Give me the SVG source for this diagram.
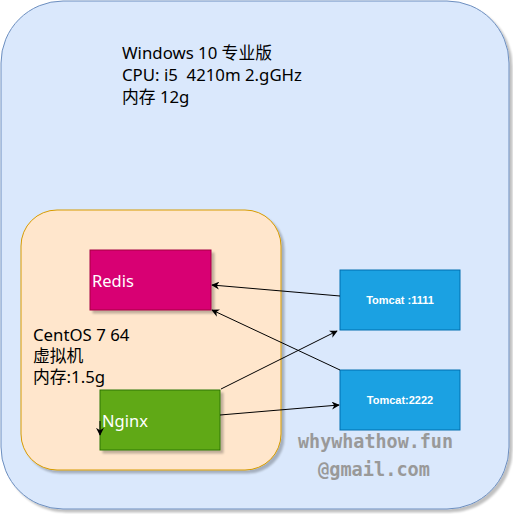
<svg xmlns="http://www.w3.org/2000/svg" width="513" height="514" viewBox="0 0 513 514">
<defs>
<marker id="ah" viewBox="0 0 10 10" refX="9" refY="5" markerWidth="8" markerHeight="8" orient="auto" markerUnits="userSpaceOnUse">
<path d="M0,0 L10,5 L0,10 L3,5 Z" fill="#000"/>
</marker>
<filter id="sh" x="-10%" y="-10%" width="120%" height="120%">
<feOffset dx="3" dy="3" in="SourceAlpha" result="o"/>
<feGaussianBlur in="o" stdDeviation="1" result="b"/>
<feComponentTransfer in="b" result="c"><feFuncA type="linear" slope="0.25"/></feComponentTransfer>
<feMerge><feMergeNode in="c"/><feMergeNode in="SourceGraphic"/></feMerge>
</filter>
</defs>
<style>
.t{font-family:"Noto Sans","Noto Sans CJK SC",sans-serif;font-size:16.8px;fill:#000;white-space:pre}
.w{font-family:"Noto Sans",sans-serif;font-size:16.5px;fill:#fff}
.tc{font-family:"Liberation Sans",Arial,sans-serif;font-size:11px;font-weight:bold;fill:#fff;text-anchor:middle}
.c{stroke:#000;stroke-width:1;fill:none;marker-end:url(#ah)}
.wm{font-family:"DejaVu Sans Mono",monospace;font-size:20px;font-weight:bold;fill:#999}
</style>
<g id="windows">
<rect x="1" y="1" width="508" height="508" rx="62" ry="62" fill="#dae8fc" stroke="#6c8ebf" filter="url(#sh)"/>
<text class="t" x="122" y="59">Windows 10 专业版</text>
<text class="t" x="122" y="81" xml:space="preserve">CPU: i5  4210m 2.gGHz</text>
<text class="t" x="122" y="103">内存 12g</text>
</g>
<g id="centos">
<rect x="21" y="210" width="260" height="260" rx="36" ry="36" fill="#ffe6cc" stroke="#d79b00" filter="url(#sh)"/>
<text class="t" x="33" y="341">CentOS 7 64</text>
<text class="t" x="33" y="362">虚拟机</text>
<text class="t" x="33" y="383">内存:1.5g</text>
</g>
<g id="redis">
<rect x="90" y="250" width="121" height="60" fill="#d80073" stroke="#a50040" filter="url(#sh)"/>
<text class="w" x="92" y="287">Redis</text>
</g>
<g id="nginx">
<rect x="100" y="390" width="120" height="60" fill="#60a917" stroke="#2d7600" filter="url(#sh)"/>
<text class="w" x="102" y="427">Nginx</text>
</g>
<g id="tomcat1111">
<rect x="340" y="270" width="120" height="60" fill="#1ba1e2" stroke="#006eaf"/>
<text class="tc" x="400" y="304">Tomcat :1111</text>
</g>
<g id="tomcat2222">
<rect x="340" y="370" width="120" height="60" fill="#1ba1e2" stroke="#006eaf"/>
<text class="tc" x="400" y="404">Tomcat:2222</text>
</g>
<g id="connectors">
<line class="c" x1="340" y1="296" x2="212" y2="285"/>
<line class="c" x1="340" y1="370" x2="212" y2="310"/>
<line class="c" x1="221" y1="389" x2="337" y2="331"/>
<line class="c" x1="220" y1="415" x2="339" y2="405"/>
<line class="c" x1="100" y1="421" x2="100" y2="435"/>
</g>
<g id="watermark">
<text class="wm" x="298" y="448" textLength="155" lengthAdjust="spacingAndGlyphs">whywhathow.fun</text>
<text class="wm" x="318" y="476" textLength="112" lengthAdjust="spacingAndGlyphs">@gmail.com</text>
</g>
</svg>
